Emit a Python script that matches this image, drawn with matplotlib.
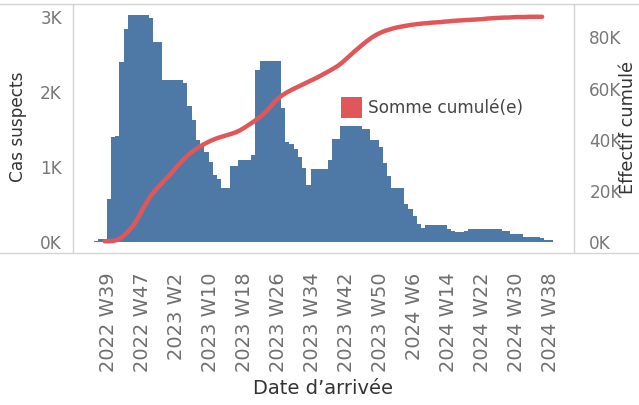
import matplotlib
matplotlib.use("Agg")
import matplotlib.pyplot as plt
from matplotlib.patches import Rectangle
from matplotlib.lines import Line2D
import numpy as np

# Weekly suspected cases (weeks 2022 W36 .. 2024 W39)
cases = [15, 35, 35, 573, 1404, 1418, 2404, 2840, 3027, 3027,
         3027, 3027, 3027, 2991, 2662, 2662, 2160, 2160, 2160, 2160,
         2160, 2124, 1813, 1627, 1360, 1293, 1204, 1071, 893, 836,
         724, 724, 1013, 1013, 1093, 1093, 1093, 1160, 2293, 2413,
         2413, 2413, 2413, 2413, 1791, 1338, 1307, 1240, 1129, 982,
         760, 973, 973, 973, 973, 1093, 1373, 1373, 1547, 1547,
         1547, 1547, 1547, 1507, 1507, 1360, 1360, 1271, 1049, 880,
         716, 716, 716, 507, 436, 347, 240, 182, 227, 227,
         227, 227, 227, 169, 147, 133, 133, 147, 173, 173,
         173, 173, 173, 173, 173, 173, 147, 147, 107, 107,
         107, 67, 67, 67, 67, 49, 27, 27]

# Cumulative count (thousands), from week index 2 onward
cum_start = 2
cumulative_k = [0.3, 0.3, 0.4, 0.8, 1.8, 3.2, 5.0, 7.0, 9.8, 13.0,
                15.8, 18.4, 20.3, 22.2, 24.0, 25.6, 27.5, 29.5, 31.3, 33.0,
                34.5, 35.8, 36.9, 37.9, 38.8, 39.6, 40.3, 40.9, 41.4, 41.9,
                42.4, 43.0, 43.8, 44.8, 45.9, 47.0, 48.2, 49.5, 51.0, 52.8,
                54.8, 56.4, 57.6, 58.6, 59.5, 60.3, 61.1, 61.9, 62.7, 63.5,
                64.3, 65.2, 66.1, 67.0, 68.0, 69.0, 70.3, 71.8, 73.3, 74.8,
                76.2, 77.6, 78.9, 80.1, 81.1, 81.9, 82.6, 83.1, 83.6, 84.0,
                84.3, 84.6, 84.9, 85.1, 85.3, 85.5, 85.6, 85.8, 85.9, 86.0,
                86.2, 86.3, 86.5, 86.6, 86.7, 86.8, 86.9, 87.0, 87.1, 87.2,
                87.4, 87.5, 87.6, 87.7, 87.8, 87.8, 87.9, 88.0, 88.0, 88.0,
                88.1, 88.1, 88.1, 88.1]

tick_labels = ["2022 W39", "2022 W47", "2023 W2", "2023 W10", "2023 W18",
               "2023 W26", "2023 W34", "2023 W42", "2023 W50", "2024 W6",
               "2024 W14", "2024 W22", "2024 W30", "2024 W38"]
first_tick_index = 3
tick_step = 8

assert len(cases) == 108
assert len(cumulative_k) == 104

W, H = 639, 405
fig = plt.figure(figsize=(W / 100, H / 100), dpi=100)
fig.patch.set_facecolor("white")

left, right, top, bottom = 73, 574, 4, 253
ax = fig.add_axes([left / W, 1 - bottom / H, (right - left) / W, (bottom - top) / H])

x = np.arange(len(cases))
ax.bar(x, cases, width=1.0, color="#4E79A7", linewidth=0)
ax.set_xlim(-5.44, 112.5)
ax.set_ylim(-147, 3173)

tick_pos = [first_tick_index + i * tick_step for i in range(len(tick_labels))]
ax.set_xticks(tick_pos)
ax.set_xticklabels(tick_labels, rotation=90, fontsize=14, color="#6f6f6f")
ax.set_yticks([0, 1000, 2000, 3000])
ax.set_yticklabels(["0K", "1K", "2K", "3K"], fontsize=12.2, color="#777777")
ax.tick_params(axis="x", length=0, pad=14)
ax.tick_params(axis="y", length=0, pad=8)

for s in ["top", "bottom"]:
    ax.spines[s].set_visible(False)
for s in ["left", "right"]:
    ax.spines[s].set_color("#d4d4d4")
    ax.spines[s].set_linewidth(1.0)

ax2 = ax.twinx()
cx = np.arange(cum_start, cum_start + len(cumulative_k))
ax2.plot(cx, np.array(cumulative_k) * 1000, color="#E15759", linewidth=3.2,
         solid_capstyle="round", solid_joinstyle="round")
ax2.set_ylim(-4300, 93100)
ax2.set_yticks([0, 20000, 40000, 60000, 80000])
ax2.set_yticklabels(["0K", "20K", "40K", "60K", "80K"], fontsize=12.2, color="#777777")
ax2.tick_params(axis="y", length=0, pad=11)
for s in ["top", "bottom", "left", "right"]:
    ax2.spines[s].set_visible(False)

# Full-width frame lines
for yy in (top, bottom):
    fig.add_artist(Line2D([0, 1], [1 - yy / H, 1 - yy / H], transform=fig.transFigure,
                          color="#d4d4d4", linewidth=1.0))

# Axis titles
fig.text(18 / W, 1 - 127 / H, "Cas suspects", rotation=90, ha="center", va="center",
         fontsize=12.2, color="#333333")
fig.text(628 / W, 1 - 127 / H, "Effectif cumulé", rotation=90, ha="center", va="center",
         fontsize=12.7, color="#333333")
fig.text(323 / W, 1 - 388 / H, "Date d\u2019arrivée", ha="center", va="center",
         fontsize=14, color="#333333")

# Legend
fig.add_artist(Rectangle((341 / W, 1 - 118 / H), 21 / W, 21 / H, transform=fig.transFigure,
                         facecolor="#E15759", edgecolor="none"))
fig.text(368 / W, 1 - 108 / H, "Somme cumulé(e)", ha="left", va="center",
         fontsize=12.2, color="#444444")

fig.savefig("out.png", dpi=100)
